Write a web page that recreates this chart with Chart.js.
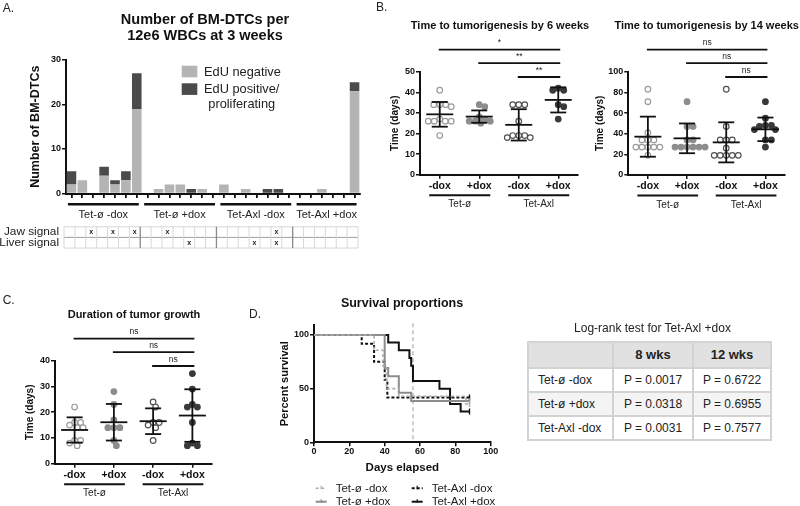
<!DOCTYPE html>
<html>
<head>
<meta charset="utf-8">
<title>BM-DTCs and tumorigenesis</title>
<script src="https://cdn.jsdelivr.net/npm/chart.js@4.4.1/dist/chart.umd.min.js"></script>
<style>
  html, body { margin:0; padding:0; background:#fff; }
  body { position:relative; width:800px; height:506px; overflow:hidden;
         font-family:"Liberation Sans", Arial, Helvetica, sans-serif; color:#111; }
  canvas { position:absolute; }
  .txt { position:absolute; white-space:nowrap; line-height:1; }
  .ctr { width:400px; text-align:center; }
  .letter { font-size:12px; color:#222; }
  .ttl { font-weight:bold; color:#111; }
  table.lr { position:absolute; left:527px; top:341px; border-collapse:collapse; table-layout:fixed;
             font-size:12px; color:#222; width:243px; }
  table.lr td { border:2px solid #d3d3d3; padding:0; white-space:nowrap; }
  table.lr tr.head td { background:#e1e1e1; font-weight:bold; font-size:13px; text-align:center; height:23.7px; }
  table.lr tr.body td { height:22px; text-align:center; }
  table.lr tr.body td.rn { text-align:left; padding-left:9px; }
  table.lr tr.alt td { background:#f4f4f4; }
</style>
</head>
<body>
<canvas id="chartA" width="370" height="270" style="left:0;top:0;width:370px;height:270px"></canvas>
<canvas id="chartB6" width="230" height="215" style="left:360px;top:0;width:230px;height:215px"></canvas>
<canvas id="chartB14" width="210" height="215" style="left:590px;top:0;width:210px;height:215px"></canvas>
<canvas id="chartC" width="245" height="216" style="left:0;top:290px;width:245px;height:216px"></canvas>
<canvas id="chartD" width="260" height="216" style="left:250px;top:290px;width:260px;height:216px"></canvas>

<div class="txt letter" style="left:2.7px;top:1.7px">A.</div>
<div class="txt letter" style="left:376px;top:1.1px">B.</div>
<div class="txt letter" style="left:2.7px;top:294.4px">C.</div>
<div class="txt letter" style="left:249px;top:307.7px">D.</div>

<div class="txt ttl ctr" style="left:5px;top:10.7px;font-size:14.5px;line-height:16.5px">Number of BM-DTCs per<br>12e6 WBCs at 3 weeks</div>
<div class="txt ttl ctr" style="left:300px;top:20.3px;font-size:11px">Time to tumorigenesis by 6 weeks</div>
<div class="txt ttl ctr" style="left:506.7px;top:20.3px;font-size:11px">Time to tumorigenesis by 14 weeks</div>
<div class="txt ttl ctr" style="left:-66px;top:309.3px;font-size:11px">Duration of tumor growth</div>
<div class="txt ttl ctr" style="left:202px;top:296.7px;font-size:12.5px">Survival proportions</div>
<div class="txt ctr" style="left:452.5px;top:322.4px;font-size:12px;color:#222">Log-rank test for Tet-Axl +dox</div>

<table class="lr" id="lrTable">
  <colgroup><col style="width:85px"><col style="width:80px"><col style="width:78px"></colgroup>
</table>

<script>
// ================= DATA =================
// Panel A: number of BM-DTCs per mouse (stacked), grouped by cohort
const groupNames  = ['Tet-ø -dox', 'Tet-ø +dox', 'Tet-Axl -dox', 'Tet-Axl +dox'];
const groupSizes  = [7, 7, 7, 6];
const edUNegative = [2,3,0,4,2,3,19,  0,1,2,2,0,1,0,  2,0,1,0,0,0,0,  0,0,1,0,0,23];
const edUPositive = [3,0,0,2,1,2,8,   0,0,0,0,1,0,0,  0,0,0,0,1,1,0,  0,0,0,0,0,2];
const jawSignal   = [0,0,1,0,1,0,1,   0,0,1,0,0,0,0,  0,0,0,0,0,1,0,  0,0,0,0,0,0];
const liverSignal = [0,0,0,0,0,0,0,   0,0,0,0,1,0,0,  0,0,0,1,0,1,0,  0,0,0,0,0,0];
const seriesA     = ['EdU negative', 'EdU positive/\nproliferating'];
const signalRows  = ['Jaw signal', 'Liver signal'];

// Panels B / C: category labels
const doxLabels  = ['-dox', '+dox', '-dox', '+dox'];
const lineLabels = ['Tet-ø', 'Tet-Axl'];
const comparisons = [[0, 3], [1, 3], [2, 3]];

// B: time to tumorigenesis by 6 weeks (days)
const tt6_tetO_noDox   = [41, 34, 34, 34, 33, 27, 26, 26, 26, 26, 19];
const tt6_tetO_dox     = [34, 33, 28, 27, 26, 26, 26, 25];
const tt6_tetAxl_noDox = [34, 34, 34, 26, 19, 19, 19, 18, 18];
const tt6_tetAxl_dox   = [42, 41, 41, 34, 33, 27];
const tt6_mean  = [29.3, 28.2, 24.2, 36.3];
const tt6_sd    = [6.0, 3.0, 7.6, 6.1];
const tt6_signif = ['*', '**', '**'];

// B: time to tumorigenesis by 14 weeks (days)
const tt14_tetO_noDox   = [83, 71, 41, 34, 34, 34, 27, 27, 27, 27, 27, 19];
const tt14_tetO_dox     = [71, 47, 47, 34, 34, 27, 27, 27, 27, 27, 27];
const tt14_tetAxl_noDox = [83, 47, 34, 34, 34, 26, 19, 19, 19, 19, 19];
const tt14_tetAxl_dox   = [71, 55, 48, 48, 47, 44, 44, 34, 34, 27];
const tt14_mean  = [37.1, 35.5, 31.6, 44.2];
const tt14_sd    = [19.4, 14.4, 19.4, 11.4];
const tt14_signif = ['ns', 'ns', 'ns'];

// C: duration of tumor growth (days)
const dur_tetO_noDox   = [22, 16, 16, 15, 14, 14, 9, 9, 8, 7];
const dur_tetO_dox     = [28, 23, 17, 14, 14, 14, 9, 7];
const dur_tetAxl_noDox = [24, 22, 16, 16, 15, 14, 9];
const dur_tetAxl_dox   = [35, 29, 23, 22, 22, 16, 8, 7, 7];
const dur_mean  = [13.1, 16.1, 16.5, 18.7];
const dur_sd    = [4.9, 7.1, 5.0, 10.2];
const dur_signif = ['ns', 'ns', 'ns'];

// D: Kaplan-Meier survival (days, percent)
const survNames = ['Tet-ø -dox', 'Tet-ø +dox', 'Tet-Axl -dox', 'Tet-Axl +dox'];
const surv_tetO_noDox_days   = [0, 34, 39, 41, 48, 86, 88];
const surv_tetO_noDox_pct    = [100, 85.7, 71.4, 50, 42.9, 35.7, 35.7];
const surv_tetO_dox_days     = [0, 40, 42, 48, 55, 88];
const surv_tetO_dox_pct      = [100, 69.2, 61.5, 46.2, 38.5, 38.5];
const surv_tetAxl_noDox_days = [0, 27, 34, 40, 41.5, 88];
const surv_tetAxl_noDox_pct  = [100, 91.7, 75, 58.3, 41.7, 41.7];
const surv_tetAxl_dox_days   = [0, 42, 48, 54, 55, 56, 71, 77, 83, 88];
const surv_tetAxl_dox_pct    = [100, 92.9, 85.7, 78.6, 71.4, 57.1, 50, 35.7, 28.6, 28.6];
const cutoffDay = 56;
const survYTicks = [0, 50, 100];

// Log-rank table
const lrColumns = ['', '8 wks', '12 wks'];
const lrRows = ['Tet-ø -dox', 'Tet-ø +dox', 'Tet-Axl -dox'];
const lrP8  = ['0.0017', '0.0318', '0.0031'];
const lrP12 = ['0.6722', '0.6955', '0.7577'];

// ================= SETUP =================
const FONT = '"Liberation Sans", Arial, Helvetica, sans-serif';
const INK = '#111';
Chart.defaults.font.family = FONT;
Chart.defaults.color = INK;
Chart.defaults.animation = false;
Chart.defaults.plugins.legend.display = false;
Chart.defaults.plugins.tooltip.enabled = false;

function seg(ctx, x0, y0, x1, y1) { ctx.beginPath(); ctx.moveTo(x0, y0); ctx.lineTo(x1, y1); ctx.stroke(); }

function axisY(o) {
  const ax = {
    min: 0, max: o.max,
    ticks: { stepSize: o.step, font: { size: 9, weight: 'bold' }, color: INK, padding: 1 },
    grid: { drawOnChartArea: false, drawTicks: true, tickLength: 4, color: INK, lineWidth: 1.5 },
    border: { display: true, color: INK, width: 2 },
    title: { display: true, text: o.title, font: { size: o.titleSize, weight: 'bold' }, color: INK, padding: { top: 4, bottom: 4 } },
    afterFit: s => { s.width = o.width; }
  };
  if (o.tickValues) ax.afterBuildTicks = s => { s.ticks = o.tickValues.map(v => ({ value: v })); };
  return ax;
}

// ================= PANEL A =================
const mice = [];
groupNames.forEach((g, gi) => { for (let k = 1; k <= groupSizes[gi]; k++) mice.push(g + ' #' + k); });
const colLight = '#b4b4b4', colDark = '#4b4b4b';

const panelAExtras = {
  id: 'panelAExtras',
  afterDraw(chart) {
    const { ctx, chartArea: a, scales: { x } } = chart;
    ctx.save();
    // legend
    const ds = chart.data.datasets;
    const boxY = [65.7, 83.3];
    ds.forEach((d, i) => {
      ctx.fillStyle = d.backgroundColor;
      ctx.fillRect(181.7, boxY[i], 15.6, 11.6);
      ctx.fillStyle = '#222';
      ctx.font = '12.8px ' + FONT;
      ctx.textBaseline = 'middle';
      const lines = seriesA[i].split('\n');
      const w0 = ctx.measureText(lines[0]).width;
      lines.forEach((ln, k) => {
        const w = ctx.measureText(ln).width;
        ctx.textAlign = 'left';
        ctx.fillText(ln, 204 + (w0 - w) / 2, boxY[i] + 6.3 + k * 15.3);
      });
    });
    // group lines and labels
    ctx.strokeStyle = INK; ctx.fillStyle = INK;
    let start = 0;
    groupNames.forEach((g, gi) => {
      const end = start + groupSizes[gi] - 1;
      const x0 = x.getPixelForValue(start) - 3.5, x1 = x.getPixelForValue(end) + 2;
      ctx.lineWidth = 2.5;
      seg(ctx, x0, a.bottom + 10.8, x1, a.bottom + 10.8);
      ctx.font = '11px ' + FONT; ctx.textAlign = 'center'; ctx.textBaseline = 'middle';
      ctx.fillStyle = '#222';
      ctx.fillText(g, (x0 + x1) / 2, a.bottom + 21);
      start = end + 1;
    });
    // signal grid
    const step = x.getPixelForValue(1) - x.getPixelForValue(0);
    const n = mice.length;
    const top = a.bottom + 33.3, rh = 10.6;
    const left = x.getPixelForValue(0) - step / 2 - 2;
    const right = x.getPixelForValue(n - 1) + step / 2 - 2;
    ctx.lineWidth = 1;
    ctx.strokeStyle = '#d6d6d6';
    seg(ctx, left, top, right, top);
    seg(ctx, left, top + 2 * rh, right, top + 2 * rh);
    ctx.strokeStyle = '#a0a0a0';
    seg(ctx, left, top + rh, right, top + rh);
    const bounds = new Set();
    let acc = 0; groupSizes.forEach(sz => { acc += sz; bounds.add(acc); });
    for (let i = 0; i <= n; i++) {
      const bx = x.getPixelForValue(0) + (i - 0.5) * step - 2;
      if (bounds.has(i) && i < n) { ctx.strokeStyle = '#8a8a8a'; ctx.lineWidth = 1.3; }
      else { ctx.strokeStyle = '#d8d8d8'; ctx.lineWidth = 1; }
      seg(ctx, bx, top, bx, top + 2 * rh);
    }
    ctx.fillStyle = '#222';
    ctx.font = 'bold 7px ' + FONT; ctx.textAlign = 'center'; ctx.textBaseline = 'middle';
    [jawSignal, liverSignal].forEach((row, r) => {
      row.forEach((v, i) => {
        if (v) ctx.fillText('x', x.getPixelForValue(i) - 2, top + rh * r + rh / 2);
      });
    });
    ctx.font = '11.8px ' + FONT; ctx.textAlign = 'right';
    signalRows.forEach((lab, r) => ctx.fillText(lab, 59, top + rh * r + rh / 2));
    ctx.restore();
  }
};

new Chart(document.getElementById('chartA'), {
  type: 'bar',
  data: {
    labels: mice,
    datasets: [
      { label: seriesA[0].replace('\n', ' '), data: edUNegative, backgroundColor: colLight, barPercentage: 0.88, categoryPercentage: 1 },
      { label: seriesA[1].replace('\n', ' '), data: edUPositive, backgroundColor: colDark, barPercentage: 0.88, categoryPercentage: 1 }
    ]
  },
  options: {
    responsive: false, animation: false,
    layout: { padding: { left: 24.5, top: 60, right: 10, bottom: 270 - 193.5 - 6 } },
    scales: {
      x: {
        stacked: true, offset: true,
        ticks: { display: true, autoSkip: false, maxRotation: 0, callback: () => '' },
        grid: { offset: false, drawOnChartArea: false, drawTicks: true, tickLength: 4.5, color: INK, lineWidth: 1.8 },
        border: { display: true, color: INK, width: 2 },
        afterFit: s => { s.height = 6; }
      },
      y: Object.assign(axisY({ max: 30, step: 10, title: 'Number of BM-DTCs', titleSize: 12.5, width: 41.5 }), { stacked: true })
    }
  },
  plugins: [panelAExtras]
});

// ================= PANELS B / C (dot plots) =================
const groupStyles = [
  { fill: '#ffffff', edge: '#9a9a9a' },
  { fill: '#8d8d8d', edge: '#8d8d8d' },
  { fill: '#ffffff', edge: '#505050' },
  { fill: '#3a3a3a', edge: '#3a3a3a' }
];

function swarmOffsets(values, pxPerY, spacing) {
  const order = values.map((_, i) => i).sort((p, q) => values[q] - values[p]);
  const placed = [];
  const out = new Array(values.length).fill(0);
  order.forEach(i => {
    const py = values[i] * pxPerY;
    for (let k = 0; k < 400; k++) {
      const dx = (k % 2 ? 1 : -1) * Math.ceil(k / 2) * 0.5;
      if (placed.every(p => Math.hypot(p.x - dx, p.y - py) >= spacing)) {
        placed.push({ x: dx, y: py }); out[i] = dx; break;
      }
    }
  });
  return out;
}

function makeDotPlot(id, cfg) {
  const a = cfg.area;
  const pxPerX = (a.right - a.left) / 4;
  const pxPerY = (a.bottom - a.top) / cfg.yMax;
  const datasets = cfg.groups.map((vals, g) => {
    const offs = swarmOffsets(vals, pxPerY, 5.6);
    return {
      label: lineLabels[g >> 1] + ' ' + doxLabels[g],
      data: vals.map((v, i) => ({ x: g + offs[i] / pxPerX, y: v })),
      pointRadius: 2.8, pointHoverRadius: 2.8, pointBorderWidth: 1.2,
      pointBackgroundColor: groupStyles[g].fill, pointBorderColor: groupStyles[g].edge
    };
  });
  const extras = {
    id: 'dotExtras',
    afterDatasetsDraw(chart) {
      const { ctx, scales: { x, y } } = chart;
      ctx.save();
      ctx.strokeStyle = INK; ctx.lineWidth = 1.8;
      cfg.means.forEach((m, i) => {
        const cx = x.getPixelForValue(i);
        const ym = y.getPixelForValue(m), yt = y.getPixelForValue(m + cfg.sds[i]), yb = y.getPixelForValue(m - cfg.sds[i]);
        seg(ctx, cx, yt, cx, yb);
        seg(ctx, cx - 13.5, ym, cx + 13.5, ym);
        seg(ctx, cx - 8, yt, cx + 8, yt);
        seg(ctx, cx - 8, yb, cx + 8, yb);
      });
      ctx.restore();
    },
    afterDraw(chart) {
      const { ctx, chartArea: ca, scales: { x } } = chart;
      ctx.save();
      ctx.strokeStyle = INK; ctx.fillStyle = '#222';
      lineLabels.forEach((lab, g) => {
        const x0 = x.getPixelForValue(2 * g) - 10.5, x1 = x.getPixelForValue(2 * g + 1) + 11;
        ctx.lineWidth = 2;
        seg(ctx, x0, ca.bottom + 20.5, x1, ca.bottom + 20.5);
        ctx.font = '10px ' + FONT; ctx.textAlign = 'center'; ctx.textBaseline = 'middle';
        ctx.fillText(lab, (x0 + x1) / 2, ca.bottom + 29.8);
      });
      const levels = [-22, -8.6, 5.3];
      comparisons.forEach(([i, j], k) => {
        const yy = ca.top + levels[k];
        const x0 = x.getPixelForValue(i) - 1, x1 = x.getPixelForValue(j) + 2;
        ctx.lineWidth = 1.8;
        seg(ctx, x0, yy, x1, yy);
        ctx.font = '8.5px ' + FONT; ctx.textAlign = 'center'; ctx.textBaseline = 'bottom';
        ctx.fillText(cfg.signif[k], (x0 + x1) / 2, yy - 2.5);
      });
      ctx.restore();
    }
  };
  return new Chart(document.getElementById(id), {
    type: 'scatter',
    data: { datasets },
    options: {
      responsive: false, animation: false,
      layout: { padding: { left: cfg.padLeft, top: a.top, right: cfg.w - a.right, bottom: cfg.h - a.bottom - 20 } },
      scales: {
        x: {
          type: 'linear', min: -0.5, max: 3.5,
          afterBuildTicks: s => { s.ticks = doxLabels.map((_, i) => ({ value: i })); },
          ticks: { callback: v => doxLabels[v], font: { size: 10.5, weight: 'bold' }, color: INK, padding: 1, autoSkip: false, maxRotation: 0 },
          grid: { drawOnChartArea: false, drawTicks: true, tickLength: 4, color: INK, lineWidth: 1.5 },
          border: { display: true, color: INK, width: 2 },
          afterFit: s => { s.height = 20; }
        },
        y: axisY({ max: cfg.yMax, step: cfg.yStep, title: 'Time (days)', titleSize: 10, width: a.left - cfg.padLeft })
      }
    },
    plugins: [extras]
  });
}

makeDotPlot('chartB6', {
  w: 230, h: 215, padLeft: 25, area: { left: 60, right: 218, top: 71.7, bottom: 174.7 },
  yMax: 50, yStep: 10,
  groups: [tt6_tetO_noDox, tt6_tetO_dox, tt6_tetAxl_noDox, tt6_tetAxl_dox],
  means: tt6_mean, sds: tt6_sd, signif: tt6_signif
});
makeDotPlot('chartB14', {
  w: 210, h: 215, padLeft: 0, area: { left: 38.3, right: 195, top: 71.7, bottom: 175 },
  yMax: 100, yStep: 20,
  groups: [tt14_tetO_noDox, tt14_tetO_dox, tt14_tetAxl_noDox, tt14_tetAxl_dox],
  means: tt14_mean, sds: tt14_sd, signif: tt14_signif
});
makeDotPlot('chartC', {
  w: 245, h: 216, padLeft: 20, area: { left: 55, right: 212, top: 70.7, bottom: 173.7 },
  yMax: 40, yStep: 10,
  groups: [dur_tetO_noDox, dur_tetO_dox, dur_tetAxl_noDox, dur_tetAxl_dox],
  means: dur_mean, sds: dur_sd, signif: dur_signif
});

// ================= PANEL D (survival) =================
const survStyles = [
  { color: '#ababab', width: 1.6, dash: [3, 2.5] },
  { color: '#8c8c8c', width: 2, dash: [] },
  { color: '#111111', width: 2, dash: [3, 2] },
  { color: '#111111', width: 2, dash: [] }
];
const survData = [
  [surv_tetO_noDox_days, surv_tetO_noDox_pct],
  [surv_tetO_dox_days, surv_tetO_dox_pct],
  [surv_tetAxl_noDox_days, surv_tetAxl_noDox_pct],
  [surv_tetAxl_dox_days, surv_tetAxl_dox_pct]
];

const panelDExtras = {
  id: 'panelDExtras',
  beforeDatasetsDraw(chart) {
    const { ctx, chartArea: ca, scales: { x } } = chart;
    const px = x.getPixelForValue(cutoffDay);
    ctx.save();
    ctx.strokeStyle = '#bdbdbd'; ctx.lineWidth = 1.5; ctx.setLineDash([4, 3]);
    seg(ctx, px, ca.top - 2, px, ca.bottom);
    ctx.restore();
  },
  afterDraw(chart) {
    const { ctx } = chart;
    ctx.save();
    const cols = [[65.7, 85.7], [161.7, 181.7]];
    const rows = [198.3, 211.7];
    chart.data.datasets.forEach((d, i) => {
      const st = survStyles[i];
      const [sx, tx] = cols[i >> 1];
      const yy = rows[i % 2];
      ctx.strokeStyle = st.color; ctx.lineWidth = st.width; ctx.setLineDash(st.dash);
      seg(ctx, sx, yy, sx + 11, yy);
      ctx.setLineDash([]); ctx.lineWidth = 1.2;
      seg(ctx, sx + 5.5, yy - 2.5, sx + 5.5, yy + 1);
      ctx.fillStyle = '#222'; ctx.font = '11.5px ' + FONT; ctx.textAlign = 'left'; ctx.textBaseline = 'middle';
      ctx.fillText(d.label, tx, yy + 0.5);
    });
    ctx.restore();
  }
};

new Chart(document.getElementById('chartD'), {
  type: 'line',
  data: {
    datasets: survData.map(([days, pct], i) => ({
      label: survNames[i],
      data: days.map((d, k) => ({ x: d, y: pct[k] })),
      borderColor: survStyles[i].color, borderWidth: survStyles[i].width, borderDash: survStyles[i].dash,
      stepped: true, tension: 0, fill: false,
      pointStyle: 'line', pointRotation: 90,
      pointRadius: c => (c.dataIndex === days.length - 1 ? 3 : 0),
      pointHoverRadius: 0, pointBorderColor: survStyles[i].color, pointBorderWidth: 1.4
    }))
  },
  options: {
    responsive: false, animation: false,
    layout: { padding: { left: 24.4, top: 35.3, right: 260 - 240.7, bottom: 216 - 152.3 - 36.6 } },
    scales: {
      x: {
        type: 'linear', min: 0, max: 100,
        ticks: { stepSize: 20, font: { size: 9, weight: 'bold' }, color: INK, padding: 0, maxRotation: 0 },
        grid: { drawOnChartArea: false, drawTicks: true, tickLength: 4, color: INK, lineWidth: 1.5 },
        border: { display: true, color: INK, width: 2 },
        title: { display: true, text: 'Days elapsed', font: { size: 11.5, weight: 'bold' }, color: INK, padding: { top: 4, bottom: 4 } },
        afterFit: s => { s.height = 36.6; }
      },
      y: axisY({ max: 109, step: 50, title: 'Percent survival', titleSize: 11, width: 39.6, tickValues: survYTicks })
    }
  },
  plugins: [panelDExtras]
});

// ================= TABLE =================
(function buildTable() {
  const t = document.getElementById('lrTable');
  const head = document.createElement('tr'); head.className = 'head';
  lrColumns.forEach(c => { const td = document.createElement('td'); td.textContent = c; head.appendChild(td); });
  t.appendChild(head);
  lrRows.forEach((r, i) => {
    const tr = document.createElement('tr'); tr.className = 'body' + (i === 1 ? ' alt' : '');
    const cells = [r, 'P = ' + lrP8[i], 'P = ' + lrP12[i]];
    cells.forEach((c, k) => { const td = document.createElement('td'); td.textContent = c; if (k === 0) td.className = 'rn'; tr.appendChild(td); });
    t.appendChild(tr);
  });
})();
</script>
</body>
</html>
